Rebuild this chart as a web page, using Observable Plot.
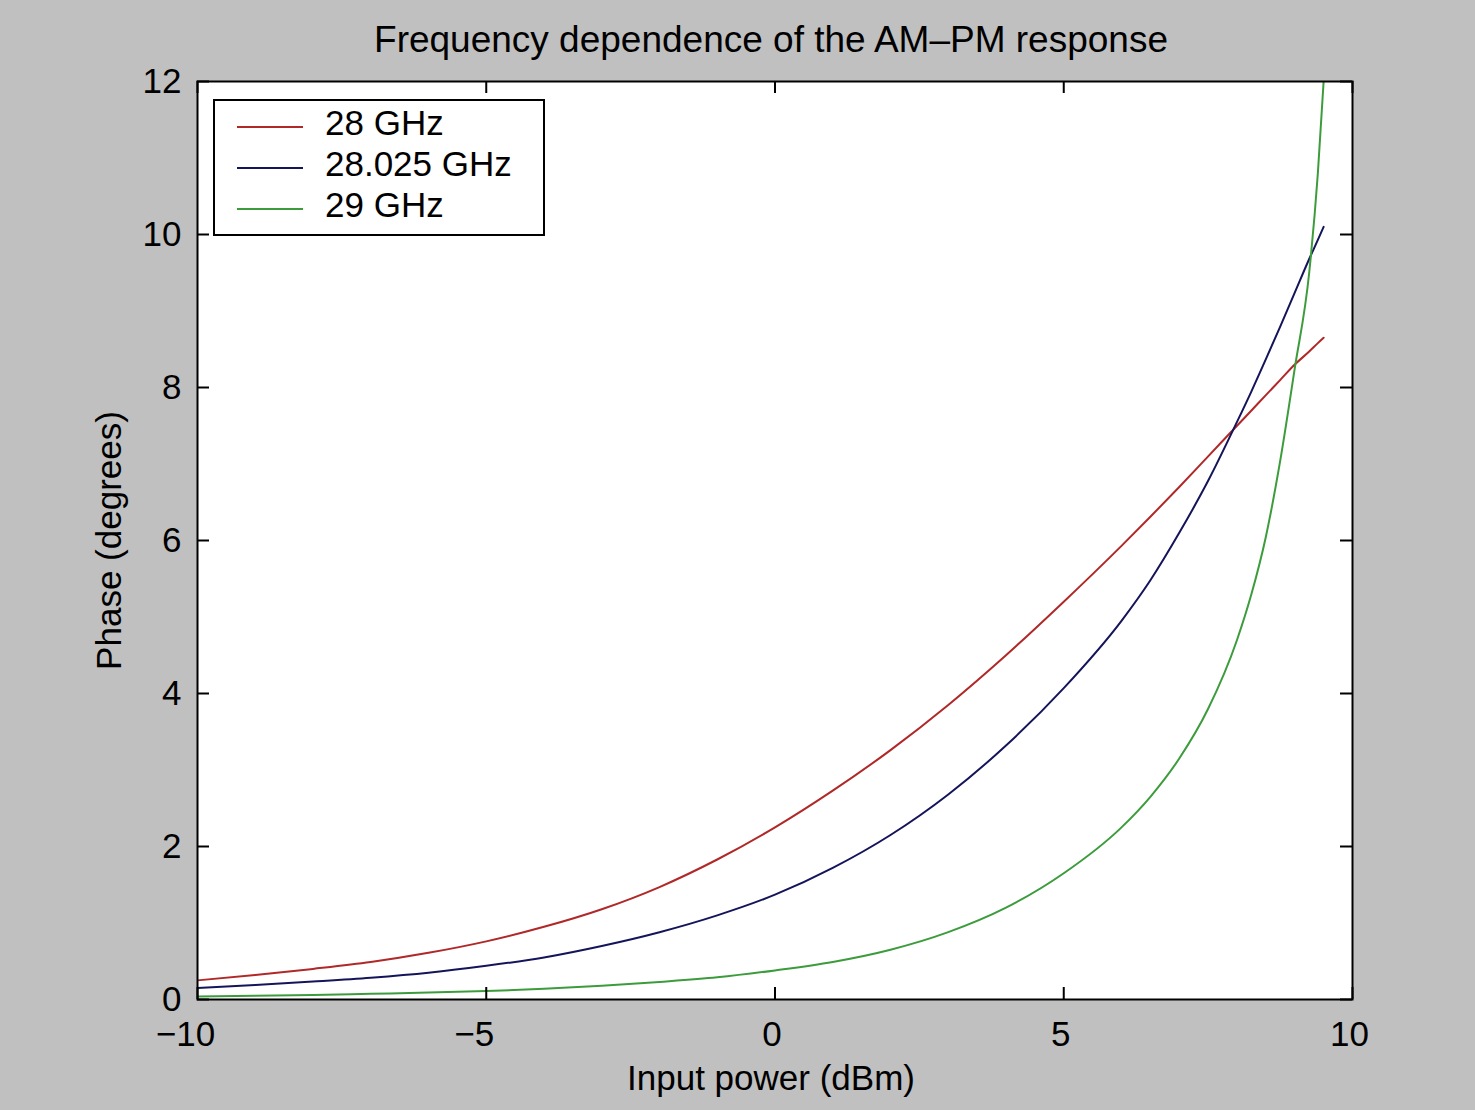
<!DOCTYPE html>
<html><head><meta charset="utf-8">
<script src="https://cdn.jsdelivr.net/npm/d3@7"></script>
<script src="https://cdn.jsdelivr.net/npm/@observablehq/plot@0.6"></script>
<style>
html,body{margin:0;padding:0;background:#c0c0c0;overflow:hidden;}
#wrap{position:relative;width:1475px;height:1110px;overflow:hidden;font-family:"Liberation Sans",Arial,Helvetica,sans-serif;}
#wrap svg{position:absolute;left:0;top:0;}
#legend{position:absolute;left:213px;top:99px;width:332px;height:137px;box-sizing:border-box;border:2px solid #000;background:#fff;}
.row{position:absolute;left:0;width:100%;height:41px;line-height:41px;font-size:35px;white-space:nowrap;color:#000;}
.sw{position:absolute;left:22px;top:24px;width:66px;height:2px;}
.lbl{position:absolute;left:110px;top:0;}
</style></head><body><div id="wrap"></div>
<script>
// ---- data ----
const xValues    = [-10,-9,-8,-7,-6,-5,-4,-3,-2,-1,0,1,2,3,4,5,6,6.5,7,7.5,8,8.25,8.5,8.75,9,9.25,9.4,9.5];
const phase28    = [0.25,0.32,0.40,0.49,0.61,0.76,0.95,1.18,1.47,1.83,2.25,2.73,3.26,3.85,4.50,5.20,5.93,6.31,6.70,7.10,7.50,7.70,7.90,8.10,8.30,8.47,8.58,8.65];
const phase28025 = [0.15,0.19,0.235,0.285,0.35,0.44,0.55,0.70,0.88,1.10,1.37,1.72,2.15,2.68,3.32,4.07,4.95,5.48,6.10,6.78,7.55,7.95,8.37,8.80,9.24,9.68,9.93,10.10];
const phase29    = [0.04,0.05,0.06,0.075,0.09,0.11,0.14,0.18,0.23,0.29,0.38,0.49,0.65,0.88,1.20,1.65,2.25,2.65,3.15,3.80,4.70,5.30,6.05,7.05,8.25,9.50,10.80,12.00];
const seriesNames  = ["28 GHz","28.025 GHz","29 GHz"];
const seriesValues = [phase28, phase28025, phase29];
const seriesColors = ["#b02828","#14145a","#3c9c3c"];
const xTicksNeg = [-10,-5];
const xTicksPos = [0,5,10];
const xTicks = xTicksNeg.concat(xTicksPos);
const yTicks = [0,2,4,6,8,10,12];
const titleText = "Frequency dependence of the AM\u2013PM response";
const xLabelText = "Input power (dBm)";
const yLabelText = "Phase (degrees)";

const rows = [];
seriesNames.forEach((name, i) => xValues.forEach((x, j) => rows.push({series: name, x, y: seriesValues[i][j]})));

const W = 1475, H = 1110, mL = 197, mR = 123, mT = 81, mB = 111;
const plotH = H - mT - mB, plotW = W - mL - mR, tickLen = 12;
const FONT = "'Liberation Sans', Arial, Helvetica, sans-serif";

const chart = Plot.plot({
  width: W, height: H,
  marginLeft: mL, marginRight: mR, marginTop: mT, marginBottom: mB,
  style: {background: "transparent", fontFamily: FONT, fontSize: "35px", color: "#000", overflow: "visible"},
  x: {domain: [-10, 10]},
  y: {domain: [0, 12]},
  color: {domain: seriesNames, range: seriesColors},
  marks: [
    Plot.frame({fill: "#fff", stroke: null}),
    Plot.line(rows, {x: "x", y: "y", z: "series", stroke: "series", strokeWidth: 2, curve: "monotone-x", clip: true}),
    Plot.ruleX(xTicks, {x: d => d, insetTop: plotH - tickLen, stroke: "#000", strokeWidth: 2}),
    Plot.ruleX(xTicks, {x: d => d, insetBottom: plotH - tickLen, stroke: "#000", strokeWidth: 2}),
    Plot.ruleY(yTicks, {y: d => d, insetRight: plotW - tickLen, stroke: "#000", strokeWidth: 2}),
    Plot.ruleY(yTicks, {y: d => d, insetLeft: plotW - tickLen, stroke: "#000", strokeWidth: 2}),
    Plot.frame({stroke: "#000", strokeWidth: 2}),
    Plot.axisX({ticks: xTicksNeg, tickSize: 0, tickPadding: 22, label: null, fontSize: 35, dx: -12}),
    Plot.axisX({ticks: xTicksPos, tickSize: 0, tickPadding: 22, label: null, fontSize: 35, dx: -3}),
    Plot.axisY({ticks: yTicks, tickSize: 0, tickPadding: 16, label: null, fontSize: 35}),
    Plot.text([titleText], {text: d => d, frameAnchor: "top", lineAnchor: "middle", dy: -41, dx: -4, fontSize: 37, fill: "#000"}),
    Plot.text([xLabelText], {text: d => d, frameAnchor: "bottom", lineAnchor: "middle", dy: 79, dx: -4, fontSize: 35, fill: "#000"}),
    Plot.text([yLabelText], {text: d => d, frameAnchor: "left", textAnchor: "middle", lineAnchor: "middle", dx: -88, rotate: -90, fontSize: 35, fill: "#000"})
  ]
});
const wrap = document.getElementById("wrap");
wrap.appendChild(chart);

// legend
const legend = document.createElement("div");
legend.id = "legend";
seriesNames.forEach((name, i) => {
  const row = document.createElement("div");
  row.className = "row";
  row.style.top = (1 + 41 * i) + "px";
  const sw = document.createElement("div");
  sw.className = "sw";
  sw.style.background = seriesColors[i];
  const lbl = document.createElement("span");
  lbl.className = "lbl";
  lbl.textContent = name;
  row.appendChild(sw); row.appendChild(lbl);
  legend.appendChild(row);
});
wrap.appendChild(legend);
</script></body></html>
